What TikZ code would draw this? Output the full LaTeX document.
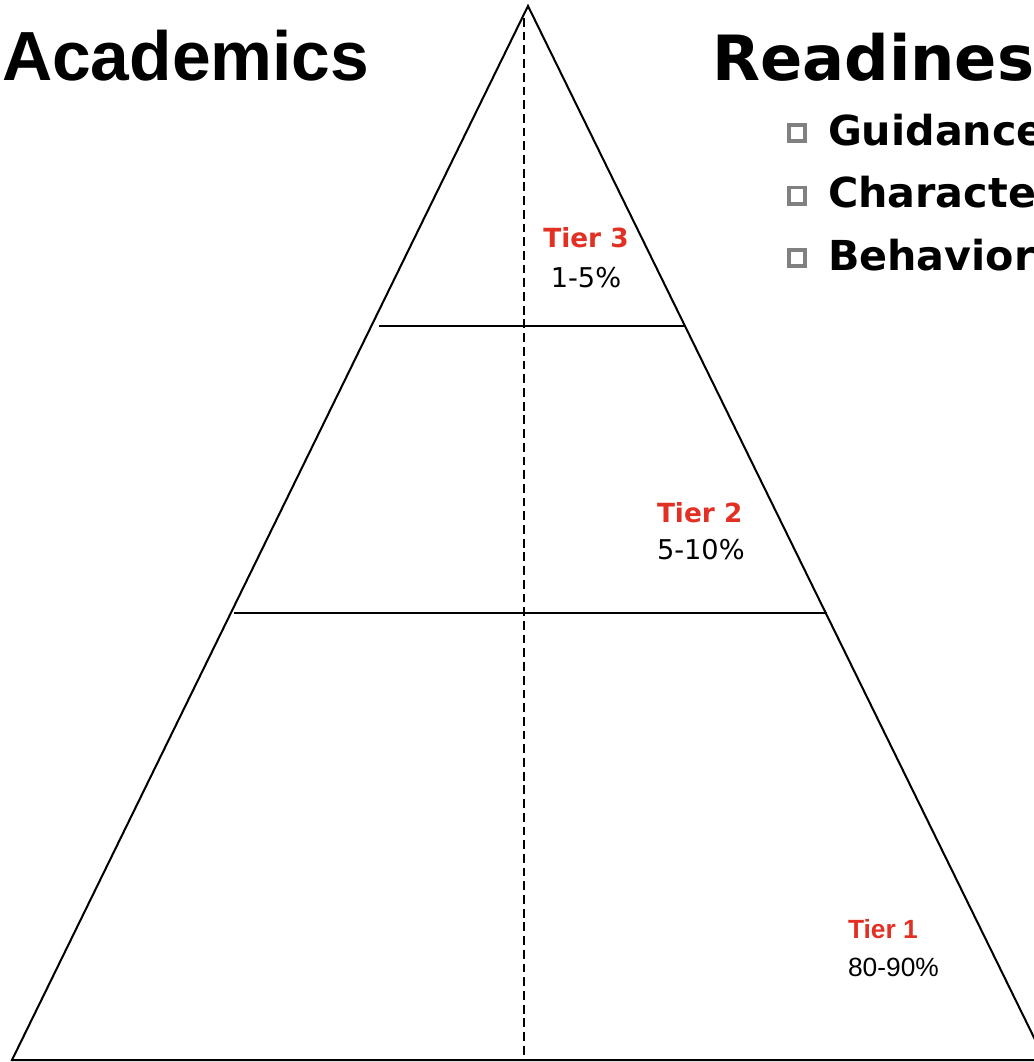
\documentclass[tikz,border=0pt]{standalone}
\usepackage{fontspec}
\newfontfamily\arialfont{Liberation Sans}
\newfontfamily\verdfont{DejaVu Sans}
\definecolor{tierred}{RGB}{226,48,36}
\definecolor{boxgray}{RGB}{128,128,128}
\tikzset{
  heading/.style={inner sep=0,font=\bfseries\fontsize{35.5}{40}\selectfont},
  itemtext/.style={inner sep=0,anchor=base west,font=\verdfont\bfseries\fontsize{23.5}{27}\selectfont},
  itembox/.style={draw=boxgray,line width=2pt,minimum size=0.33cm,inner sep=0},
  tiername/.style={inner sep=0,text=tierred,font=\verdfont\bfseries\fontsize{15}{17}\selectfont},
  tierpct/.style={inner sep=0,font=\verdfont\fontsize{15.5}{17}\selectfont},
}
\begin{document}
\begin{tikzpicture}[x=0.02cm,y=-0.02cm,line width=1.15pt]
  \useasboundingbox (0,0) rectangle (1034,1062);
  % pyramid outline
  \coordinate (apex) at (528,6);
  \coordinate (left) at (12,1060);
  \coordinate (right) at (1045,1060);
  \draw (apex) -- (left) -- (right) -- cycle;
  % tier borders
  \draw (379,326) -- (685,326);
  \draw (234,613) -- (827,613);
  % middle split
  \coordinate (top) at (524,18);
  \coordinate (bot) at (524,1060);
  \draw[dash pattern=on 5pt off 2.8pt] (top) -- (bot);
  % headings
  \node[heading,anchor=base west,font=\arialfont\bfseries\fontsize{39.6}{44}\selectfont] (acad) at (1,80) {Academics};
  \node[heading,anchor=base west,font=\verdfont\bfseries\fontsize{35.5}{40}\selectfont] (ready) at (711,80) {Readiness};
  % readiness list
  \foreach \lbl [count=\i] in {Guidance,Character,Behavior} {
    \node[itembox] (box\i) at (797,{133+62.5*(\i-1)}) {};
    \node[itemtext] (item\i) at (827,{145+62.5*(\i-1)}) {\lbl};
  }
  % tier 3
  \node[tiername,anchor=base] (t3) at (586,247) {Tier 3};
  \node[tierpct,anchor=base] (p3) at (586,287) {1-5\%};
  % tier 2
  \node[tiername,anchor=base west] (t2) at (656,522) {Tier 2};
  \node[tierpct,anchor=base west] (p2) at (656,559) {5-10\%};
  % tier 1
  \node[tiername,anchor=base west,font=\arialfont\bfseries\fontsize{15}{17}\selectfont] (t1) at (847,938) {Tier 1};
  \node[tierpct,anchor=base west,font=\arialfont\fontsize{15}{17}\selectfont] (p1) at (847,976) {80-90\%};
\end{tikzpicture}
\end{document}
